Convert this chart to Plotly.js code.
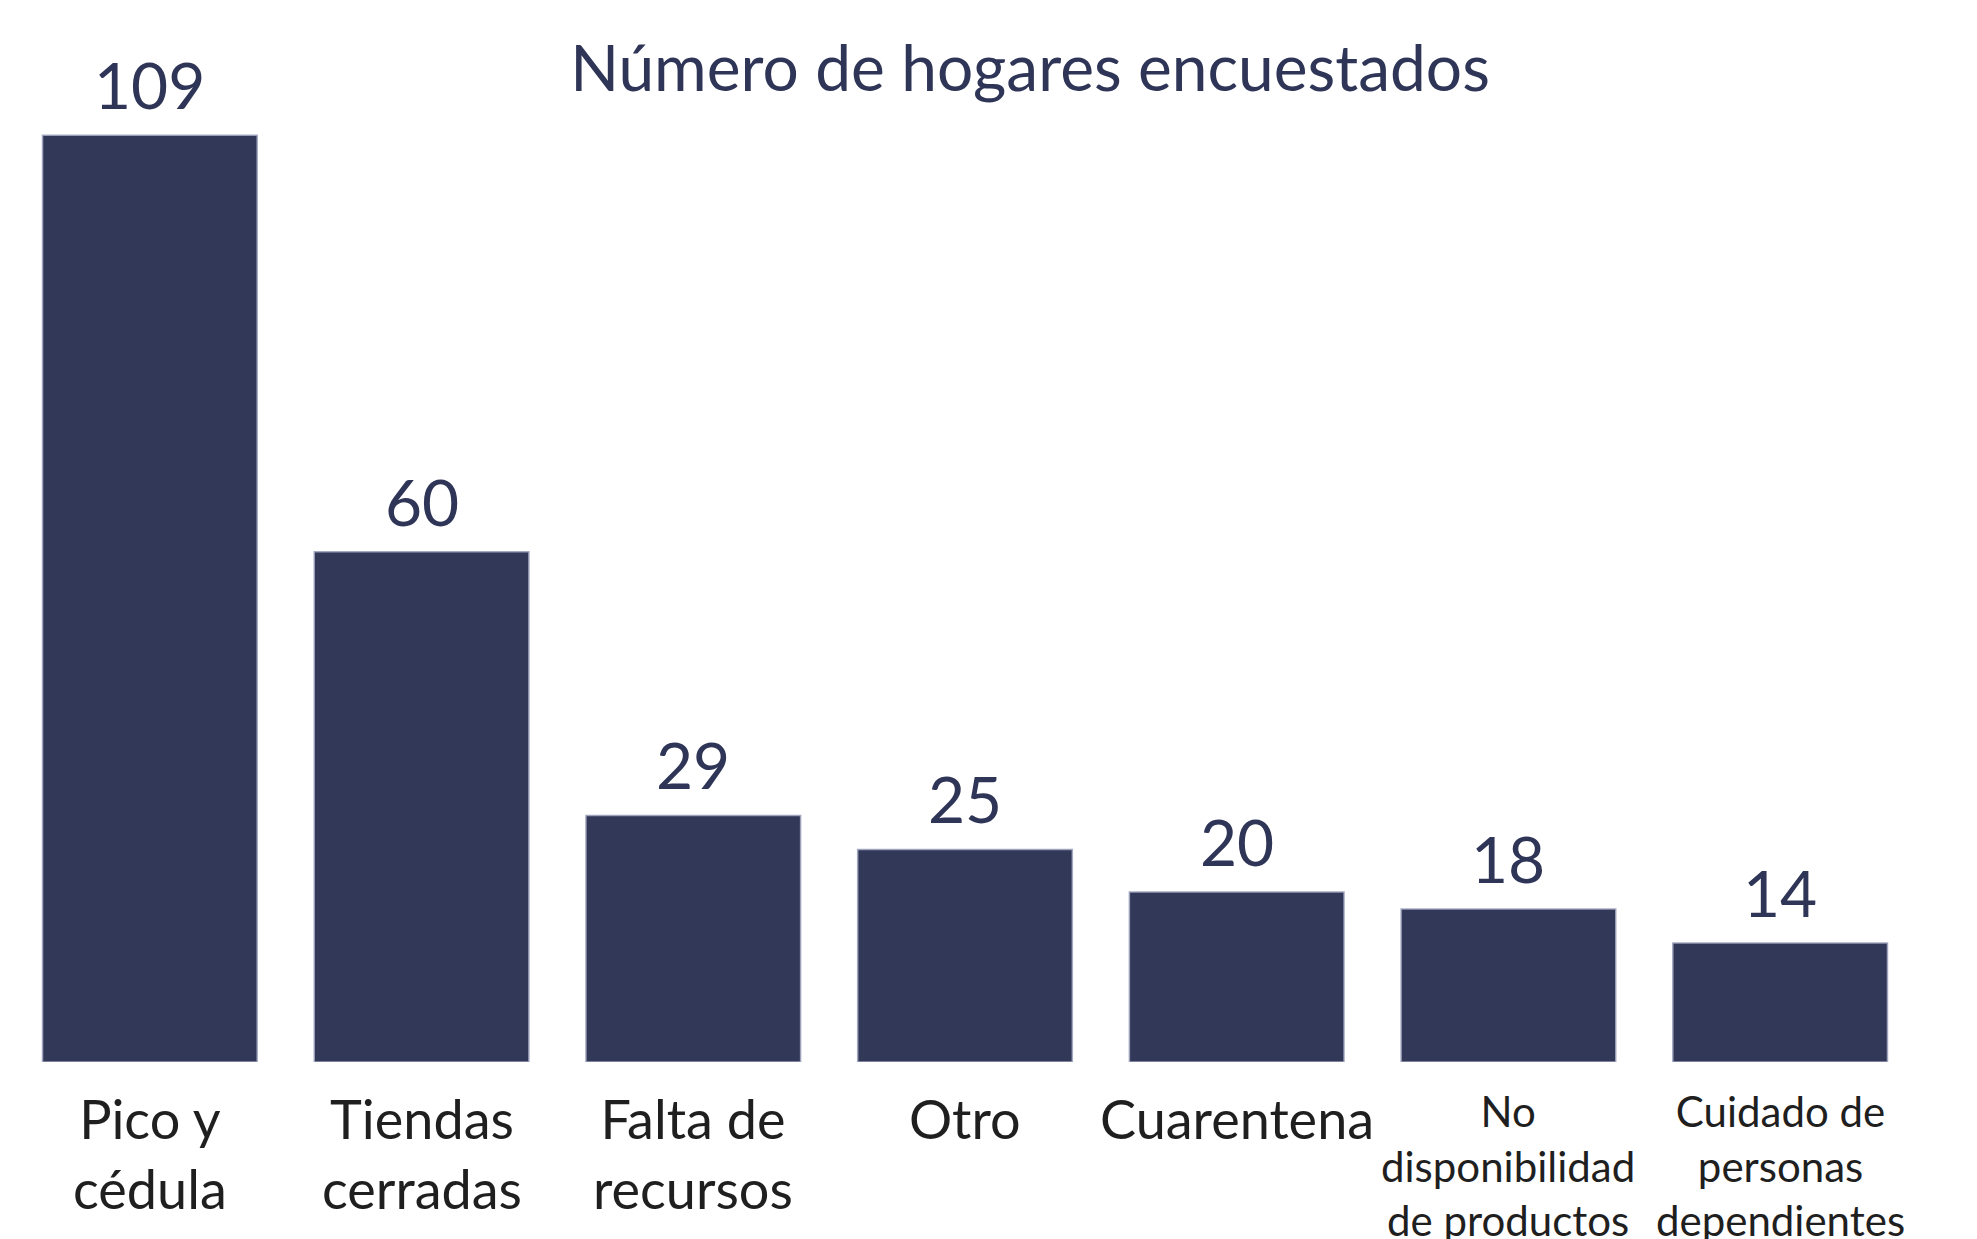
<!DOCTYPE html>
<html>
<head>
<meta charset="utf-8">
<script src="https://cdn.plot.ly/plotly-3.0.1.min.js"></script>
<style>html,body{margin:0;padding:0;background:#fff;}#chart{width:1977px;height:1239px;}</style>
</head>
<body>
<div id="chart"></div>
<script>
const categories = ["Pico y cédula", "Tiendas cerradas", "Falta de recursos", "Otro", "Cuarentena", "No disponibilidad de productos", "Cuidado de personas dependientes"];
const tickLabels = ["Pico y<br>cédula", "Tiendas<br>cerradas", "Falta de<br>recursos", "Otro", "Cuarentena", "No<br>disponibilidad<br>de productos", "Cuidado de<br>personas<br>dependientes"];
const labelSizes = [54, 54, 54, 54, 54, 42, 42];
const values = [109, 60, 29, 25, 20, 18, 14];
const chartTitle = "Número de hogares encuestados";

const navy = "#323858";
const textColor = "#2f3557";

const trace = {
  type: "bar",
  x: categories,
  y: values,
  marker: {color: navy, line: {color: "rgba(160,165,190,0.9)", width: 1.5}},
  hoverinfo: "skip"
};

const valueLabels = categories.map((c, i) => ({
  x: c, xref: "x", y: values[i], yref: "y",
  yanchor: "bottom", xanchor: "center",
  yshift: 10,
  text: String(values[i]),
  showarrow: false,
  font: {family: "Lato", size: 64, color: textColor}
}));

const catLabels = categories.map((c, i) => ({
  x: c, xref: "x", y: 0, yref: "paper",
  yanchor: "top", xanchor: "center",
  yshift: -22,
  text: tickLabels[i],
  showarrow: false,
  font: {family: "Lato", size: labelSizes[i], color: "#1f1f1f"}
}));

const layout = {
  width: 1977, height: 1239,
  paper_bgcolor: "#ffffff", plot_bgcolor: "#ffffff",
  margin: {l: 14, r: 61, t: 40, b: 177, pad: 0},
  bargap: 0.21,
  showlegend: false,
  title: {
    text: chartTitle,
    font: {family: "Lato", size: 64, color: textColor},
    x: 0.521, xanchor: "center", xref: "container",
    y: 0.945, yanchor: "middle", yref: "container"
  },
  xaxis: {showticklabels: false, showgrid: false, zeroline: false, showline: false, ticks: ""},
  yaxis: {range: [0, 120.2], visible: false, showgrid: false, zeroline: false},
  annotations: valueLabels.concat(catLabels)
};

Plotly.newPlot("chart", [trace], layout, {displayModeBar: false, staticPlot: true});
</script>
</body>
</html>
